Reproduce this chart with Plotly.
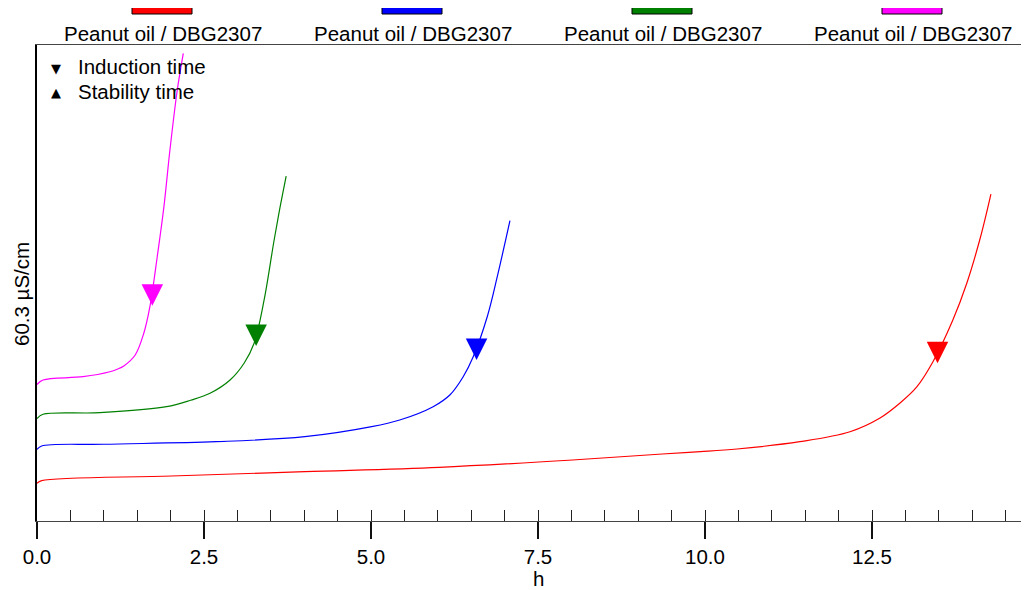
import plotly.graph_objects as go

# ---- data ----
series_names = ["Peanut oil / DBG2307", "Peanut oil / DBG2307",
                "Peanut oil / DBG2307", "Peanut oil / DBG2307"]
series_colors = ["#ff0000", "#0000ff", "#008000", "#ff00ff"]

red_h = [0.0, 0.07, 2.01, 4.01, 6.02, 8.02, 9.36, 9.93, 10.48, 11.42, 12.17,
         12.62, 12.92, 13.17, 13.41, 13.71, 13.92, 14.12, 14.28]
red_v = [4.78, 5.11, 5.70, 6.25, 6.80, 7.73, 8.49, 8.78, 9.12, 10.05, 11.31,
         13.05, 14.95, 16.98, 20.14, 25.46, 30.15, 35.85, 41.42]

blue_h = [0.0, 0.07, 1.00, 2.68, 4.01, 5.01, 5.43, 5.93, 6.18, 6.38, 6.53,
          6.74, 6.89, 7.08]
blue_v = [9.06, 9.50, 9.72, 10.05, 10.68, 11.95, 12.79, 14.48, 15.96, 18.28,
          20.81, 25.88, 30.95, 38.04]

green_h = [0.0, 0.09, 0.94, 1.94, 2.30, 2.59, 2.89, 3.10, 3.25, 3.40, 3.55,
           3.64, 3.73]
green_v = [12.98, 13.52, 13.72, 14.48, 15.30, 16.18, 17.86, 19.98, 22.51,
           28.00, 35.60, 39.82, 43.70]

magenta_h = [0.0, 0.09, 0.69, 1.09, 1.20, 1.30, 1.47, 1.60, 1.69, 1.80, 1.90,
             1.99, 2.10, 2.19]
magenta_v = [17.29, 17.86, 18.28, 18.91, 19.23, 19.65, 21.03, 23.82, 27.15,
             33.48, 39.82, 47.00, 54.60, 59.25]

induction_h = [13.48, 6.58, 3.28, 1.726]
induction_v = [19.98, 20.40, 22.17, 27.27]

x_ticks = [0.0, 2.5, 5.0, 7.5, 10.0, 12.5]
x_tick_labels = ["0.0", "2.5", "5.0", "7.5", "10.0", "12.5"]
x_minor_step = 0.5
x_max = 14.85
y_full_scale = 60.3
y_label = "60.3 µS/cm"
x_label = "h"
marker_legend = [("▼", "Induction time"), ("▲", "Stability time")]

FONT = "Liberation Sans, Arial, sans-serif"
FS = 20.5

curves = [(red_h, red_v), (blue_h, blue_v), (green_h, green_v),
          (magenta_h, magenta_v)]

fig = go.Figure()
for (hx, vy), col, name in zip(curves, series_colors, series_names):
    fig.add_trace(go.Scatter(x=hx, y=vy, mode="lines", name=name,
                             line=dict(color=col, width=1.2, shape="spline",
                                       smoothing=1.0),
                             showlegend=False, hoverinfo="skip"))
# induction markers live on the overlay axis (same range) so it gets drawn
for i, col in enumerate(series_colors):
    fig.add_trace(go.Scatter(x=[induction_h[i]], y=[induction_v[i]],
                             xaxis="x2", yaxis="y",
                             mode="markers",
                             marker=dict(symbol="arrow-down", size=21.5,
                                         color=col, line=dict(width=0)),
                             showlegend=False, hoverinfo="skip"))

# page offset (default body margin) and plot-area geometry in page pixels
OFF = 8
L, T, W, H = 37, 45, 992, 476
FIG_W, FIG_H = 1029 - OFF, 590 - OFF

def px(xp):
    return (xp - L) / W

def py(yp):
    return (T + H - yp) / H

shapes = []
annotations = []
# top series legend
for i, (name, col) in enumerate(zip(series_names, series_colors)):
    cx = 162 + 250 * i
    shapes.append(dict(type="rect", xref="paper", yref="paper",
                       x0=px(cx - 30), x1=px(cx + 30), y0=py(14), y1=py(7),
                       fillcolor=col, line=dict(color="#000000", width=1)))
    annotations.append(dict(text=name, xref="paper", yref="paper",
                            x=px(cx + 1), y=py(33), xanchor="center",
                            yanchor="middle", showarrow=False,
                            font=dict(family=FONT, size=FS, color="#000")))
# marker legend in the plot
for j, (sym, txt) in enumerate(marker_legend):
    yy = 67 + 24 * j
    annotations.append(dict(text=sym, xref="paper", yref="paper",
                            x=px(56), y=py(yy + 1), xanchor="center",
                            yanchor="middle", showarrow=False,
                            font=dict(family="DejaVu Sans", size=13, color="#000")))
    annotations.append(dict(text=txt, xref="paper", yref="paper",
                            x=px(76), y=py(yy), xanchor="left",
                            yanchor="middle", showarrow=False,
                            font=dict(family=FONT, size=FS, color="#000")))
# y label
annotations.append(dict(text=y_label, xref="paper", yref="paper",
                        x=px(21), y=py(294), xanchor="center", yanchor="middle",
                        textangle=-90, showarrow=False,
                        font=dict(family=FONT, size=FS, color="#000")))
# x label
annotations.append(dict(text=x_label, xref="x", yref="paper",
                        x=7.5, y=py(578), xanchor="center", yanchor="middle",
                        showarrow=False,
                        font=dict(family=FONT, size=FS, color="#000")))

fig.update_layout(
    width=FIG_W, height=FIG_H,
    margin=dict(l=L - OFF, r=FIG_W - (L - OFF) - W, t=T - OFF,
                b=FIG_H - (T - OFF) - H, pad=0),
    paper_bgcolor="white", plot_bgcolor="white",
    showlegend=False,
    font=dict(family=FONT, size=FS, color="#000"),
    xaxis=dict(range=[0, x_max], tickvals=x_ticks, ticktext=x_tick_labels,
               ticks="outside", ticklen=17, tickwidth=1.5, tickcolor="#111",
               showline=True, linecolor="#444", linewidth=1, mirror=True,
               showgrid=False, zeroline=False,
               tickfont=dict(family=FONT, size=FS, color="#000")),
    xaxis2=dict(range=[0, x_max], overlaying="x", anchor="y", side="bottom",
                tick0=0, dtick=x_minor_step, ticks="inside", ticklen=11,
                tickwidth=1, tickcolor="#222", showticklabels=False,
                showline=False, showgrid=False, zeroline=False),
    yaxis=dict(range=[0, y_full_scale], showticklabels=False, ticks="",
               showgrid=False, zeroline=False, showline=True,
               linecolor="#000", linewidth=2),
    shapes=shapes,
    annotations=annotations,
)

fig.write_html("out.html")
